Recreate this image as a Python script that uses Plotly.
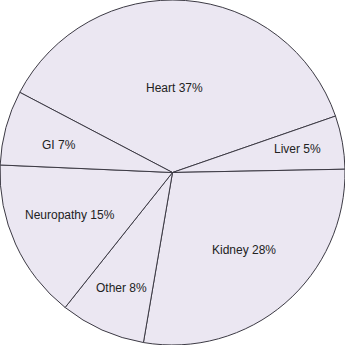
import math
import plotly.graph_objects as go

labels = ["Heart", "Liver", "Kidney", "Other", "Neuropathy", "GI"]
values = [37, 5, 28, 8, 15, 7]

# label placement (layout only): radial fraction and small angular nudge in degrees
label_radius = [0.49, 0.744, 0.615, 0.736, 0.647, 0.679]
label_nudge = [3.1, 0.4, 2.0, 0.5, -2.0, 1.4]

W = H = 345
ROTATION = -62.3
R_PX = 171.5

fig = go.Figure(go.Pie(
    labels=labels,
    values=values,
    sort=False,
    direction="clockwise",
    rotation=ROTATION,
    textinfo="none",
    marker=dict(colors=["#ebe7f2"] * len(labels), line=dict(color="#3c3a44", width=1)),
    hoverinfo="skip",
    showlegend=False,
))

total = sum(values)
start = 90 - ROTATION  # math angle (deg) where first slice starts
cum = 0
annotations = []
for lab, v, rf, nd in zip(labels, values, label_radius, label_nudge):
    mid = start - (cum + v / 2) / total * 360 + nd
    cum += v
    a = math.radians(mid)
    x = 0.5 + rf * R_PX * math.cos(a) / W
    y = 0.5 + rf * R_PX * math.sin(a) / H
    annotations.append(dict(
        x=x, y=y, xref="paper", yref="paper",
        text=f"{lab} {v}%", showarrow=False,
        xanchor="center", yanchor="middle",
        font=dict(family="Liberation Sans, Arial, sans-serif", size=12, color="#222222"),
    ))

fig.update_layout(
    width=W, height=H,
    margin=dict(l=0, r=0, t=0, b=0),
    paper_bgcolor="white",
    annotations=annotations,
)

fig.write_html("out.html")
